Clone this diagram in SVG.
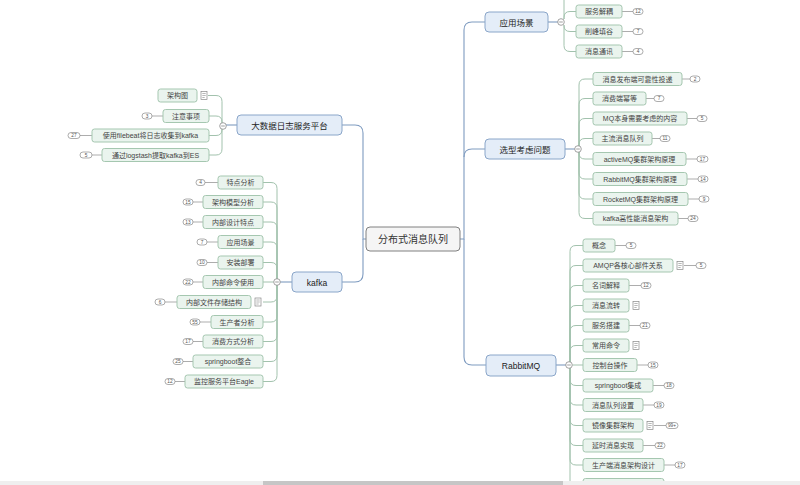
<svg xmlns="http://www.w3.org/2000/svg" width="800" height="485" viewBox="0 0 800 485">
<style>
text{font-family:"Liberation Sans","Noto Sans CJK SC",sans-serif;text-anchor:middle;dominant-baseline:central;fill:#333}
.center rect{fill:#f5f5f5;stroke:#808080;stroke-width:1}
.center text{font-size:10px}
.main rect{fill:#e4edf8;stroke:#8aa6c9;stroke-width:1}
.main text{font-size:8.5px;fill:#222}
.child rect.box{fill:#eaf4ee;stroke:#a5c7b0;stroke-width:1}
.child text{font-size:7px;fill:#444}
.badge rect{fill:#fff;stroke:#8a8a8a;stroke-width:0.7}
.badge text{font-size:4.8px;fill:#555}
.mc{fill:none;stroke:#7e9bc0;stroke-width:1.1}
.cc{fill:none;stroke:#a2c2ad;stroke-width:1}
.bc{fill:none;stroke:#8a8a8a;stroke-width:0.7}
.col{fill:#fff;stroke:#8a8a8a;stroke-width:0.8}
</style>
<defs>
<g id="note"><rect x="0" y="-4" width="6" height="8" fill="#fff" stroke="#888" stroke-width="0.7"/><path d="M1.3,-2H4.7M1.3,0H4.7M1.3,2H3.7" stroke="#888" stroke-width="0.6"/></g>
<g id="colp"><circle r="3.3" class="col"/><path d="M-1.8,0H1.8" stroke="#777" stroke-width="0.7"/></g>
</defs>
<rect width="800" height="485" fill="#ffffff"/>

<g id="connectors">
<!-- center to main -->
<path class="mc" d="M460,239 H464 V30 Q464,22 472,22 H485"/>
<path class="mc" d="M464,157 Q464,149 472,149 H485"/>
<path class="mc" d="M464,239 V357 Q464,365 472,365 H486"/>
<path class="mc" d="M366,239 H363 V133 Q363,125 355,125 H342"/>
<path class="mc" d="M363,239 V274 Q363,282 355,282 H342"/>
<!-- main to collapse -->
<path class="mc" d="M548,22 H558"/>
<path class="mc" d="M565,149 H575"/>
<path class="mc" d="M556,365 H566"/>
<path class="mc" d="M237,125 H226"/>
<path class="mc" d="M292,282 H280"/>
<!-- 应用场景 children -->
<path class="cc" d="M564,19 V0"/>
<path class="cc" d="M564,19 V17.5 Q564,11.5 570,11.5 H576"/>
<path class="cc" d="M564,25 V25.5 Q564,31.5 570,31.5 H576"/>
<path class="cc" d="M564,25 V45.5 Q564,51.5 570,51.5 H576"/>
<!-- 选型考虑问题 children -->
<path class="cc" d="M579,146 V85 Q579,79 585,79 H593"/>
<path class="cc" d="M579,146 V104.5 Q579,98.5 585,98.5 H593"/>
<path class="cc" d="M579,146 V124.5 Q579,118.5 585,118.5 H593"/>
<path class="cc" d="M579,146 V144.5 Q579,138.5 585,138.5 H593"/>
<path class="cc" d="M579,152 V153 Q579,159 585,159 H593"/>
<path class="cc" d="M579,152 V173 Q579,179 585,179 H593"/>
<path class="cc" d="M579,152 V193 Q579,199 585,199 H593"/>
<path class="cc" d="M579,152 V212.5 Q579,218.5 585,218.5 H593"/>
<!-- RabbitMQ children -->
<path class="cc" d="M570,362 V251.5 Q570,245.5 576,245.5 H583"/>
<path class="cc" d="M570,362 V271.5 Q570,265.5 576,265.5 H583"/>
<path class="cc" d="M570,362 V291.5 Q570,285.5 576,285.5 H583"/>
<path class="cc" d="M570,362 V311.5 Q570,305.5 576,305.5 H583"/>
<path class="cc" d="M570,362 V331.5 Q570,325.5 576,325.5 H583"/>
<path class="cc" d="M570,362 V351.5 Q570,345.5 576,345.5 H583"/>
<path class="cc" d="M572.5,365 H583"/>
<path class="cc" d="M570,368 V379.5 Q570,385.5 576,385.5 H583"/>
<path class="cc" d="M570,368 V399 Q570,405 576,405 H583"/>
<path class="cc" d="M570,368 V419.5 Q570,425.5 576,425.5 H583"/>
<path class="cc" d="M570,368 V439.5 Q570,445.5 576,445.5 H583"/>
<path class="cc" d="M570,368 V459 Q570,465 576,465 H583"/>
<path class="cc" d="M570,368 V485"/>
<!-- 大数据日志服务平台 children -->
<path class="cc" d="M222,123 V101.5 Q222,95.5 216,95.5 H208"/>
<path class="cc" d="M222,123 V122 Q222,116 216,116 H209"/>
<path class="cc" d="M222,129 V129.5 Q222,135.5 216,135.5 H209"/>
<path class="cc" d="M222,129 V149 Q222,155 216,155 H209"/>
<!-- kafka children -->
<path class="cc" d="M277,279 V188.5 Q277,182.5 271,182.5 H263"/>
<path class="cc" d="M277,279 V208 Q277,202 271,202 H263"/>
<path class="cc" d="M277,279 V228 Q277,222 271,222 H263"/>
<path class="cc" d="M277,279 V248 Q277,242 271,242 H263"/>
<path class="cc" d="M277,279 V268.5 Q277,262.5 271,262.5 H263"/>
<path class="cc" d="M273.7,282 H263"/>
<path class="cc" d="M277,285 V296 Q277,302 271,302 H263"/>
<path class="cc" d="M277,285 V316 Q277,322 271,322 H263"/>
<path class="cc" d="M277,285 V335.5 Q277,341.5 271,341.5 H263"/>
<path class="cc" d="M277,285 V355.5 Q277,361.5 271,361.5 H263"/>
<path class="cc" d="M277,285 V375.5 Q277,381.5 271,381.5 H263"/>
<!-- badge connectors right -->
<path class="bc" d="M622,11.5H633M622,31.5H633M622,51.5H633"/>
<path class="bc" d="M682,79H690M646,98.5H654M687,118.5H697M652,138.5H660M686,159H697M687,179H698M688,199H699M678,218.5H688"/>
<path class="bc" d="M615,245.5H626M684,265.5H696M629,285.5H641M629,325.5H640M637,365H648M653,385.5H664M643,405H654M654,425.5H666M643,445.5H655M664,465H675"/>
<!-- badge connectors left -->
<path class="bc" d="M163,116H152M92,135.5H80M102,155H92"/>
<path class="bc" d="M218,182.5H205M203,202H193M203,222H193M218,242H207M218,262.5H207M203,282H193M177,302H165M211,322H200M203,341.5H193M193,361.5H183M185,381.5H175"/>
</g>

<g id="collapse">
<use href="#colp" x="561" y="22"/>
<use href="#colp" x="578" y="149"/>
<use href="#colp" x="569" y="365"/>
<use href="#colp" x="223" y="126"/>
<use href="#colp" x="277" y="282"/>
</g>

<g id="n-center" class="center"><rect x="366" y="227" width="94" height="24" rx="4"/><text x="413" y="239.5">分布式消息队列</text></g>

<g id="n-yycj" class="main"><rect x="485" y="12" width="63" height="20" rx="4"/><text x="516.5" y="22.5">应用场景</text></g>
<g id="n-xxkl" class="main"><rect x="485" y="139" width="80" height="20" rx="4"/><text x="525" y="149.5">选型考虑问题</text></g>
<g id="n-rabbit" class="main"><rect x="486" y="355" width="70" height="21" rx="4"/><text x="521" y="365.5">RabbitMQ</text></g>
<g id="n-bigdata" class="main"><rect x="237" y="115" width="105" height="20" rx="4"/><text x="289.5" y="125.5">大数据日志服务平台</text></g>
<g id="n-kafka" class="main"><rect x="292" y="272" width="50" height="20" rx="4"/><text x="317" y="282.5">kafka</text></g>

<!-- 应用场景 children -->
<g id="c-fwjo" class="child"><rect class="box" x="576" y="5" width="46" height="13" rx="2.5"/><text x="599" y="11.5">服务解耦</text></g>
<g id="c-xftg" class="child"><rect class="box" x="576" y="25" width="46" height="13" rx="2.5"/><text x="599" y="31.5">削峰填谷</text></g>
<g id="c-xxtx" class="child"><rect class="box" x="576" y="45" width="46" height="13" rx="2.5"/><text x="599" y="51.5">消息通讯</text></g>

<!-- 选型考虑问题 children -->
<g id="c-x1" class="child"><rect class="box" x="593" y="72.5" width="89" height="13" rx="2.5"/><text x="637.5" y="79">消息发布端可靠性投递</text></g>
<g id="c-x2" class="child"><rect class="box" x="593" y="92" width="53" height="13" rx="2.5"/><text x="619.5" y="98.5">消费端幂等</text></g>
<g id="c-x3" class="child"><rect class="box" x="593" y="112" width="94" height="13" rx="2.5"/><text x="640" y="118.5">MQ本身需要考虑的内容</text></g>
<g id="c-x4" class="child"><rect class="box" x="593" y="132" width="59" height="13" rx="2.5"/><text x="622.5" y="138.5">主流消息队列</text></g>
<g id="c-x5" class="child"><rect class="box" x="593" y="152.5" width="93" height="13" rx="2.5"/><text x="639.5" y="159">activeMQ集群架构原理</text></g>
<g id="c-x6" class="child"><rect class="box" x="593" y="172.5" width="94" height="13" rx="2.5"/><text x="640" y="179">RabbitMQ集群架构原理</text></g>
<g id="c-x7" class="child"><rect class="box" x="593" y="192.5" width="95" height="13" rx="2.5"/><text x="640.5" y="199">RocketMQ集群架构原理</text></g>
<g id="c-x8" class="child"><rect class="box" x="593" y="212" width="85" height="13" rx="2.5"/><text x="635.5" y="218.5">kafka高性能消息架构</text></g>

<!-- RabbitMQ children -->
<g id="c-r1" class="child"><rect class="box" x="583" y="239" width="32" height="13" rx="2.5"/><text x="599" y="245.5">概念</text></g>
<g id="c-r2" class="child"><rect class="box" x="583" y="259" width="90" height="13" rx="2.5"/><text x="628" y="265.5">AMQP各核心部件关系</text><use href="#note" x="677" y="265.5"/></g>
<g id="c-r3" class="child"><rect class="box" x="583" y="279" width="46" height="13" rx="2.5"/><text x="606" y="285.5">名词解释</text></g>
<g id="c-r4" class="child"><rect class="box" x="583" y="299" width="46" height="13" rx="2.5"/><text x="606" y="305.5">消息流转</text><use href="#note" x="633" y="305.5"/></g>
<g id="c-r5" class="child"><rect class="box" x="583" y="319" width="46" height="13" rx="2.5"/><text x="606" y="325.5">服务搭建</text></g>
<g id="c-r6" class="child"><rect class="box" x="583" y="339" width="46" height="13" rx="2.5"/><text x="606" y="345.5">常用命令</text><use href="#note" x="633" y="345.5"/></g>
<g id="c-r7" class="child"><rect class="box" x="583" y="358.5" width="54" height="13" rx="2.5"/><text x="610" y="365">控制台操作</text></g>
<g id="c-r8" class="child"><rect class="box" x="583" y="379" width="70" height="13" rx="2.5"/><text x="618" y="385.5">springboot集成</text></g>
<g id="c-r9" class="child"><rect class="box" x="583" y="398.5" width="60" height="13" rx="2.5"/><text x="613" y="405">消息队列设置</text></g>
<g id="c-r10" class="child"><rect class="box" x="583" y="419" width="60" height="13" rx="2.5"/><text x="613" y="425.5">镜像集群架构</text><use href="#note" x="647" y="425.5"/></g>
<g id="c-r11" class="child"><rect class="box" x="583" y="439" width="60" height="13" rx="2.5"/><text x="613" y="445.5">延时消息实现</text></g>
<g id="c-r12" class="child"><rect class="box" x="583" y="458.5" width="81" height="13" rx="2.5"/><text x="623.5" y="465">生产端消息架构设计</text></g>
<g id="c-r13" class="child"><rect class="box" x="583" y="478.5" width="81" height="13" rx="2.5"/></g>

<!-- 大数据 children -->
<g id="c-b1" class="child"><rect class="box" x="158" y="89" width="39" height="13" rx="2.5"/><text x="177.5" y="95.5">架构图</text><use href="#note" x="201" y="95.5"/></g>
<g id="c-b2" class="child"><rect class="box" x="163" y="109.5" width="46" height="13" rx="2.5"/><text x="186" y="116">注意事项</text></g>
<g id="c-b3" class="child"><rect class="box" x="92" y="129" width="117" height="13" rx="2.5"/><text x="150.5" y="135.5">使用filebeat将日志收集到kafka</text></g>
<g id="c-b4" class="child"><rect class="box" x="102" y="148.5" width="107" height="13" rx="2.5"/><text x="155.5" y="155">通过logstash提取kafka到ES</text></g>

<!-- kafka children -->
<g id="c-k1" class="child"><rect class="box" x="218" y="176" width="45" height="13" rx="2.5"/><text x="240.5" y="182.5">特点分析</text></g>
<g id="c-k2" class="child"><rect class="box" x="203" y="195.5" width="60" height="13" rx="2.5"/><text x="233" y="202">架构模型分析</text></g>
<g id="c-k3" class="child"><rect class="box" x="203" y="215.5" width="60" height="13" rx="2.5"/><text x="233" y="222">内部设计特点</text></g>
<g id="c-k4" class="child"><rect class="box" x="218" y="235.5" width="45" height="13" rx="2.5"/><text x="240.5" y="242">应用场景</text></g>
<g id="c-k5" class="child"><rect class="box" x="218" y="256" width="45" height="13" rx="2.5"/><text x="240.5" y="262.5">安装部署</text></g>
<g id="c-k6" class="child"><rect class="box" x="203" y="275.5" width="60" height="13" rx="2.5"/><text x="233" y="282">内部命令使用</text></g>
<g id="c-k7" class="child"><rect class="box" x="177" y="295.5" width="74" height="13" rx="2.5"/><text x="214" y="302">内部文件存储结构</text><use href="#note" x="255" y="302"/></g>
<g id="c-k8" class="child"><rect class="box" x="211" y="315.5" width="52" height="13" rx="2.5"/><text x="237" y="322">生产者分析</text></g>
<g id="c-k9" class="child"><rect class="box" x="203" y="335" width="60" height="13" rx="2.5"/><text x="233" y="341.5">消费方式分析</text></g>
<g id="c-k10" class="child"><rect class="box" x="193" y="355" width="70" height="13" rx="2.5"/><text x="228" y="361.5">springboot整合</text></g>
<g id="c-k11" class="child"><rect class="box" x="185" y="375" width="78" height="13" rx="2.5"/><text x="224" y="381.5">监控服务平台Eagle</text></g>

<g id="badges" class="badge">
<rect x="633" y="8.5" width="10" height="6" rx="3"/><text x="638" y="11.7">12</text>
<rect x="633" y="28.5" width="10" height="6" rx="3"/><text x="638" y="31.7">7</text>
<rect x="633" y="48.5" width="10" height="6" rx="3"/><text x="638" y="51.7">4</text>
<rect x="690" y="76" width="10" height="6" rx="3"/><text x="695" y="79.2">2</text>
<rect x="654" y="95.5" width="10" height="6" rx="3"/><text x="659" y="98.7">7</text>
<rect x="697" y="115.5" width="10" height="6" rx="3"/><text x="702" y="118.7">5</text>
<rect x="660" y="135.5" width="10" height="6" rx="3"/><text x="665" y="138.7">11</text>
<rect x="697" y="156" width="11" height="6" rx="3"/><text x="702.5" y="159.2">17</text>
<rect x="698" y="176" width="10" height="6" rx="3"/><text x="703" y="179.2">14</text>
<rect x="699" y="196" width="10" height="6" rx="3"/><text x="704" y="199.2">9</text>
<rect x="688" y="215.5" width="10" height="6" rx="3"/><text x="693" y="218.7">24</text>
<rect x="626" y="242.5" width="10" height="6" rx="3"/><text x="631" y="245.7">5</text>
<rect x="696" y="262.5" width="10" height="6" rx="3"/><text x="701" y="265.7">5</text>
<rect x="641" y="282.5" width="10" height="6" rx="3"/><text x="646" y="285.7">12</text>
<rect x="640" y="322.5" width="10" height="6" rx="3"/><text x="645" y="325.7">21</text>
<rect x="648" y="362" width="10" height="6" rx="3"/><text x="653" y="365.2">15</text>
<rect x="664" y="382.5" width="10" height="6" rx="3"/><text x="669" y="385.7">18</text>
<rect x="654" y="402" width="10" height="6" rx="3"/><text x="659" y="405.2">19</text>
<rect x="666" y="422.5" width="12" height="6" rx="3"/><text x="672" y="425.7">99+</text>
<rect x="655" y="442.5" width="10" height="6" rx="3"/><text x="660" y="445.7">22</text>
<rect x="675" y="462" width="10" height="6" rx="3"/><text x="680" y="465.2">17</text>
<rect x="142" y="113" width="10" height="6" rx="3"/><text x="147" y="116.2">3</text>
<rect x="68" y="132.5" width="12" height="6" rx="3"/><text x="74" y="135.7">27</text>
<rect x="80" y="152" width="12" height="6" rx="3"/><text x="86" y="155.2">5</text>
<rect x="196" y="179.5" width="9" height="6" rx="3"/><text x="200.5" y="182.7">4</text>
<rect x="183" y="199" width="10" height="6" rx="3"/><text x="188" y="202.2">15</text>
<rect x="183" y="219" width="10" height="6" rx="3"/><text x="188" y="222.2">13</text>
<rect x="197" y="239" width="10" height="6" rx="3"/><text x="202" y="242.2">7</text>
<rect x="197" y="259.5" width="10" height="6" rx="3"/><text x="202" y="262.7">10</text>
<rect x="183" y="279" width="10" height="6" rx="3"/><text x="188" y="282.2">22</text>
<rect x="155" y="299" width="10" height="6" rx="3"/><text x="160" y="302.2">6</text>
<rect x="190" y="319" width="10" height="6" rx="3"/><text x="195" y="322.2">55</text>
<rect x="183" y="338.5" width="10" height="6" rx="3"/><text x="188" y="341.7">17</text>
<rect x="173" y="358.5" width="10" height="6" rx="3"/><text x="178" y="361.7">25</text>
<rect x="165" y="378.5" width="10" height="6" rx="3"/><text x="170" y="381.7">12</text>
</g>

<g id="scrollbar">
<rect x="0" y="481" width="800" height="4" fill="#efefef"/>
<rect x="263" y="481" width="300" height="4" fill="#c6c6c6"/>
</g>
</svg>
